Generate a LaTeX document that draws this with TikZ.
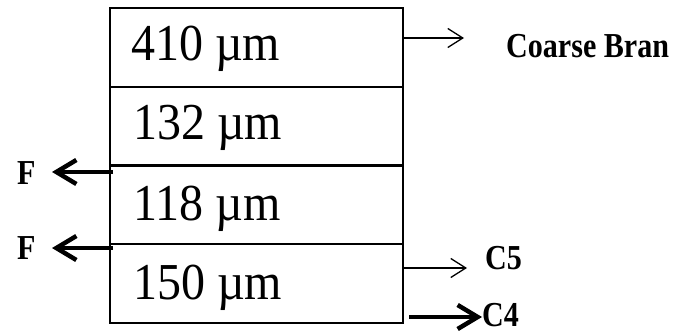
\documentclass[tikz,border=0pt]{standalone}
\usepackage{fontspec}
\setmainfont{Liberation Serif}
\usetikzlibrary{arrows.meta}

\newcommand{\tallsize}[1]{\scalebox{1}[1.08]{#1}}
\newcommand{\talllbl}[1]{\scalebox{0.97}[1.13]{#1}}

\tikzset{
  sieve/.style={draw, line width=2.2pt, minimum width=293pt, minimum height=78.75pt, inner sep=0pt},
  size/.style={font=\fontsize{48}{48}\selectfont, inner sep=0pt, anchor=base west},
  outlbl/.style={font=\fontsize{31}{31}\selectfont\bfseries, inner sep=0pt, anchor=base west},
  thinarrow/.style={line width=1.3pt, -{Straight Barb[length=15pt,width=19pt]}},
  thickarrow/.style={line width=4.5pt, -{Straight Barb[length=20pt,width=24pt]}}
}

\begin{document}
\begin{tikzpicture}[x=1pt, y=-1pt]
\useasboundingbox (0,0) rectangle (677,331);

% stack of sieves, top to bottom
\node[sieve] (r1) at (256.5, 47.375) {};
\node[sieve] (r2) at (256.5, 126.125) {};
\node[sieve] (r3) at (256.5, 204.875) {};
\node[sieve] (r4) at (256.5, 283.625) {};

% aperture sizes
\node[size] (t1) at (131, 61)  {\tallsize{410 µm}};
\node[size] (t2) at (133, 140) {\tallsize{132 µm}};
\node[size] (t3) at (133, 220) {\tallsize{118 µm}};
\node[size] (t4) at (133, 299) {\tallsize{150 µm}};

% output labels
\node[outlbl] (cb) at (506, 58) {\talllbl{Coarse Bran}};
\node[outlbl] (f1) at (17, 185) {\talllbl{F}};
\node[outlbl] (f2) at (17, 259) {\talllbl{F}};
\node[outlbl] (c5) at (485, 269) {\talllbl{C5}};
\node[outlbl] (c4) at (482, 326) {\talllbl{C4}};

% connector end points
\coordinate (cbs) at (r1.east |- 0,38);
\coordinate (cbe) at (464, 38);
\coordinate (f1s) at (113, 172);
\coordinate (f1e) at (52, 172);
\coordinate (f2s) at (113, 248);
\coordinate (f2e) at (52, 248);
\coordinate (c5s) at (r4.east |- 0,268);
\coordinate (c5e) at (467, 268);
\coordinate (c4s) at (409, 317);
\coordinate (c4e) at (c4.west |- c4s);

% streams leaving the stack
\draw[thinarrow] (cbs) -- (cbe);
\draw[thickarrow] (f1s) -- (f1e);
\draw[thickarrow] (f2s) -- (f2e);
\draw[thinarrow] (c5s) -- (c5e);
\draw[thickarrow] (c4s) -- (c4e);
\end{tikzpicture}
\end{document}
